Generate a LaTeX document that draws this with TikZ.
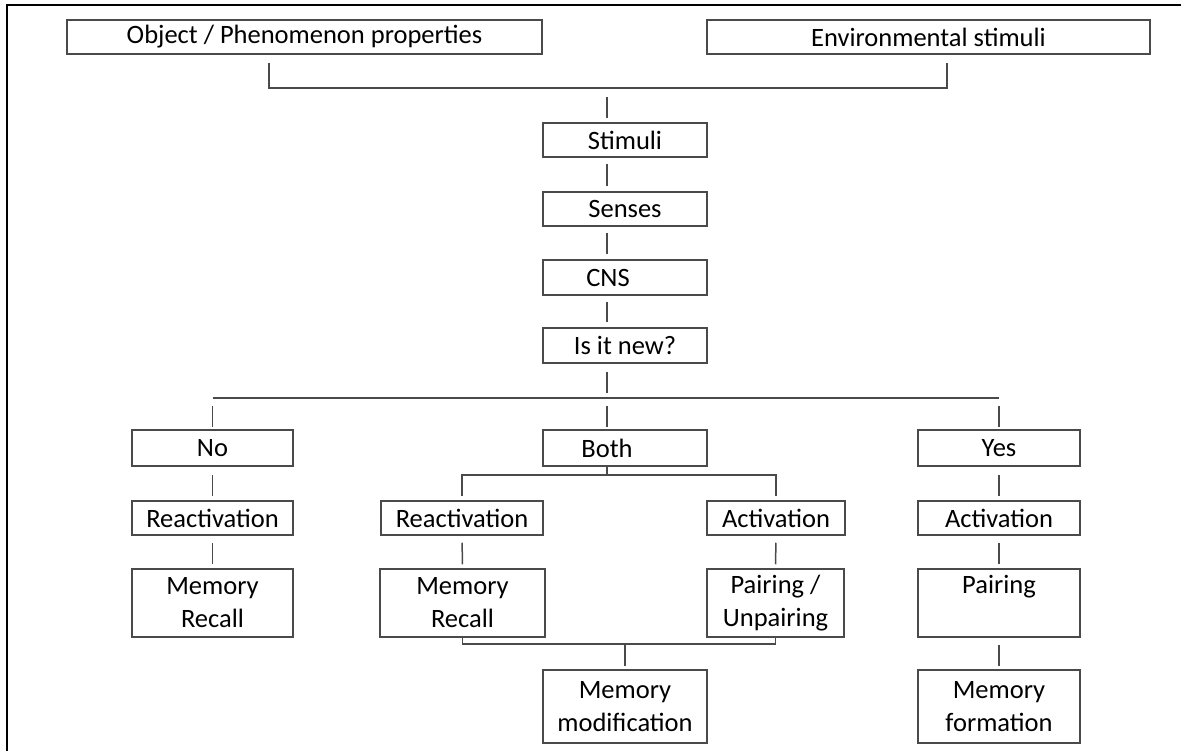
\documentclass[tikz,border=0pt]{standalone}
\usepackage{fontspec}
\setmainfont{Carlito}
\usepackage{xcolor}

\definecolor{boxgray}{HTML}{4A4A4A}

\begin{document}
\begin{tikzpicture}[x=1pt, y=-1pt,
    box/.style={draw=boxgray, line width=1.5pt, rectangle, inner sep=0pt, align=center, minimum width=#1},
    box/.default=164pt,
    link/.style={draw=boxgray, line width=1.5pt},
    font=\fontsize{26.5}{33}\selectfont]

    \useasboundingbox (0,0) rectangle (1181,751);
    \draw[line width=2.4pt] (7,751) -- (7,5) -- (1181,5);

    \node[box=475pt, minimum height=34pt] (objprops) at (304.5,37) {Object / Phenomenon properties};
    
    \node[box=443pt, minimum height=34pt] (envstimuli) at (928.5,37) {Environmental stimuli};

    \node[box, minimum height=34pt] (stimuli) at (625,140) {Stimuli};
    
    \node[box, minimum height=34pt] (senses) at (625,209) {Senses};
    
    \node[box, minimum height=35pt] (cns) at (625,277.5) {CNS\hspace*{34pt}};
    
    \node[box, minimum height=35pt] (isnew) at (625,345.5) {Is it new?};

    \node[box=161pt, minimum height=36pt] (no) at (212.5,448) {No};
    
    \node[box, minimum height=36pt] (both) at (625,448) {Both\hspace*{36pt}};
    
    \node[box=162pt, minimum height=36pt] (yes) at (999,448) {Yes};

    \node[box=161pt, minimum height=34pt] (reactno) at (212.5,518) {Reactivation};
    
    \node[box=162pt, minimum height=34pt] (reactboth) at (462,518) {Reactivation};
    
    \node[box=138pt, minimum height=34pt] (actboth) at (776,518) {Activation};
    
    \node[box=162pt, minimum height=34pt] (actyes) at (999,518) {Activation};

    \node[box=161pt, minimum height=68pt] (recallno) at (212.5,603) {Memory\\Recall};
    
    \node[box=165pt, minimum height=68pt] (recallboth) at (462.5,603) {Memory\\Recall};
    
    \node[box=137pt, minimum height=68pt] (pairboth) at (775.5,603) {Pairing /\\Unpairing};
    
    \node[box=162pt, minimum height=68pt] (pairyes) at (999,603) {Pairing\\\phantom{Unpairing}};

    \node[box, minimum height=73pt] (modification) at (625,706.5) {Memory\\modification};
    
    \node[box=162pt, minimum height=73pt] (formation) at (999,706.5) {Memory\\formation};

    % junctions
    \coordinate (spine) at (607,0);
    \coordinate (topleft) at (269,88);
    \coordinate (topright) at (947,88);
    \coordinate (split) at (607,398);
    \coordinate (bothfork) at (607,475);
    \coordinate (modfork) at (625,644);

    % inputs
    \draw[link] ([yshift=-8pt]objprops.south -| topleft) -- (topleft) -- (topright) -- ([yshift=-8pt]envstimuli.south -| topright);
    \draw[link, shorten <=9pt, shorten >=4pt] (topleft -| spine) -- (stimuli.north -| spine);

    % main column
    \draw[link, shorten <=6pt, shorten >=5pt] (stimuli.south -| spine) -- (senses.north -| spine);
    \draw[link, shorten <=6pt, shorten >=5pt] (senses.south -| spine) -- (cns.north -| spine);
    \draw[link, shorten <=6pt, shorten >=5pt] (cns.south -| spine) -- (isnew.north -| spine);
    \draw[link, shorten <=8pt, shorten >=5pt] (isnew.south -| spine) -- (split);

    % three answers
    \draw[link] (split -| no) -- (split -| yes);
    \draw[link, shorten <=8pt, shorten >=2pt] (split -| no) -- (no.north);
    \draw[link, shorten <=8pt, shorten >=2pt] (split) -- (both.north -| spine);
    \draw[link, shorten <=8pt, shorten >=2pt] (split -| yes) -- (yes.north);

    % no
    \draw[link, shorten <=8pt, shorten >=4pt] (no.south) -- (reactno.north);
    \draw[link, shorten <=7pt, shorten >=4pt] (reactno.south) -- (recallno.north);

    % both
    \draw[link] (both.south -| spine) -- (bothfork);
    \draw[link] ([yshift=4pt]reactboth.north) |- (bothfork) -| ([yshift=4pt]actboth.north);
    \draw[link, shorten <=7pt, shorten >=4pt] (reactboth.south) -- (recallboth.north);
    \draw[link, shorten <=7pt, shorten >=4pt] (actboth.south) -- (pairboth.north);
    \draw[link] (recallboth.south) |- (modfork) -| (pairboth.south);
    \draw[link, shorten >=3pt] (modfork) -- (modification.north);

    % yes
    \draw[link, shorten <=8pt, shorten >=4pt] (yes.south) -- (actyes.north);
    \draw[link, shorten <=7pt, shorten >=4pt] (actyes.south) -- (pairyes.north);
    \draw[link, shorten <=7pt, shorten >=3pt] (pairyes.south) -- (formation.north);

\end{tikzpicture}
\end{document}
